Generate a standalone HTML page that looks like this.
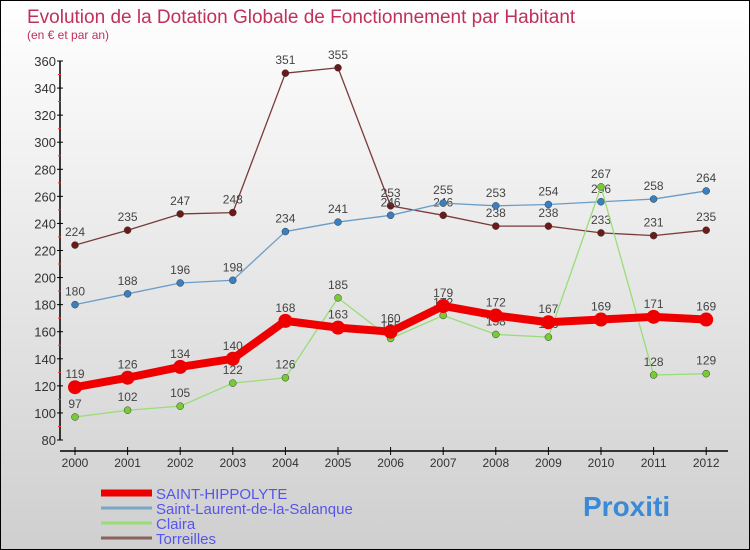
<!DOCTYPE html>
<html><head><meta charset="utf-8"><style>
body{margin:0}
#c{width:748px;height:548px;border:1px solid #000;background:linear-gradient(#fff,#cfcfcf);position:relative;overflow:hidden;font-family:"Liberation Sans",sans-serif}
</style></head><body>
<div id="c">
<svg id="s" width="748" height="548" xmlns="http://www.w3.org/2000/svg"></svg>
</div>
<script>
const years=[2000,2001,2002,2003,2004,2005,2006,2007,2008,2009,2010,2011,2012];
const yTicks=[80,100,120,140,160,180,200,220,240,260,280,300,320,340,360];
const stHippolyte=[119,126,134,140,168,163,160,179,172,167,169,171,169];
const stLaurent=[180,188,196,198,234,241,246,255,253,254,256,258,264];
const claira=[97,102,105,122,126,185,155,172,158,156,267,128,129];
const torreilles=[224,235,247,248,351,355,253,246,238,238,233,231,235];
const seriesNames=["SAINT-HIPPOLYTE","Saint-Laurent-de-la-Salanque","Claira","Torreilles"];
const s=document.getElementById('s');const NS="http://www.w3.org/2000/svg";
const X=i=>74+i*52.6, Y=v=>439-(v-80)*(379/280);
function el(t,a,txt){const e=document.createElementNS(NS,t);for(const k in a)e.setAttribute(k,a[k]);if(txt!==undefined)e.textContent=txt;s.appendChild(e);return e;}
let t=el('text',{x:26,y:22,fill:'#c0305a','font-size':19},'Evolution de la Dotation Globale de Fonctionnement par Habitant');

t=el('text',{x:26,y:38,fill:'#c0305a','font-size':12},'(en € et par an)');

let a=el('line',{x1:59,y1:Y(360),x2:59,y2:Y(80),stroke:'#000','stroke-width':1.5});

yTicks.forEach((v,i)=>{el('line',{x1:56,x2:62,y1:Y(v),y2:Y(v),stroke:'#000'});
if(i<yTicks.length-1)el('line',{x1:57,x2:60,y1:Y(v+10),y2:Y(v+10),stroke:'#e33'});
const l=el('text',{x:55,y:Y(v)+5,'text-anchor':'end','font-size':13,fill:'#333'},v);
});
a=el('line',{x1:59,y1:450,x2:727,y2:450,stroke:'#000','stroke-width':1.5});

years.forEach((y,i)=>{el('line',{x1:X(i),x2:X(i),y1:446,y2:454,stroke:'#000'});
const l=el('text',{x:X(i),y:466,'text-anchor':'middle','font-size':12,fill:'#333'},y);
});
function series(d,col,dot,w,r,name,labelAbove){
const p=el('polyline',{points:d.map((v,i)=>X(i)+','+Y(v)).join(' '),fill:'none',stroke:col,'stroke-width':w,'stroke-linejoin':'round'});

d.forEach((v,i)=>{const c=el('circle',{cx:X(i),cy:Y(v),r:r,fill:dot,stroke:w>3?'none':'#3a3a3a','stroke-width':0.5});

const l=el('text',{x:X(i),y:Y(v)-9,'text-anchor':'middle','font-size':12,fill:'#444'},v);
});}
series(torreilles,'#7a3a3a','#6b1a1a',1.3,3.5,'torreilles');
series(stLaurent,'#6a9cc8','#3a80c0',1.3,3.5,'saint-laurent');
series(claira,'#99dd77','#77cc33',1.3,3.5,'claira');
series(stHippolyte,'#ee0000','#ee0000',8,7,'saint-hippolyte');
const lc=[['#ee0000',7],['#7aa6c8',3],['#99dd77',3],['#8a6060',3]];
seriesNames.forEach((n,i)=>{const y=492+i*15;
const ln=el('line',{x1:100,x2:151,y1:y,y2:y,stroke:lc[i][0],'stroke-width':lc[i][1]});

const l=el('text',{x:155,y:y+6,'font-size':15,fill:'#5555ee'},n);
});
const logo=el('text',{x:582,y:515,'font-size':28,'font-weight':'bold',fill:'#3a8ad8'},'Proxiti');

</script>
</body></html>
